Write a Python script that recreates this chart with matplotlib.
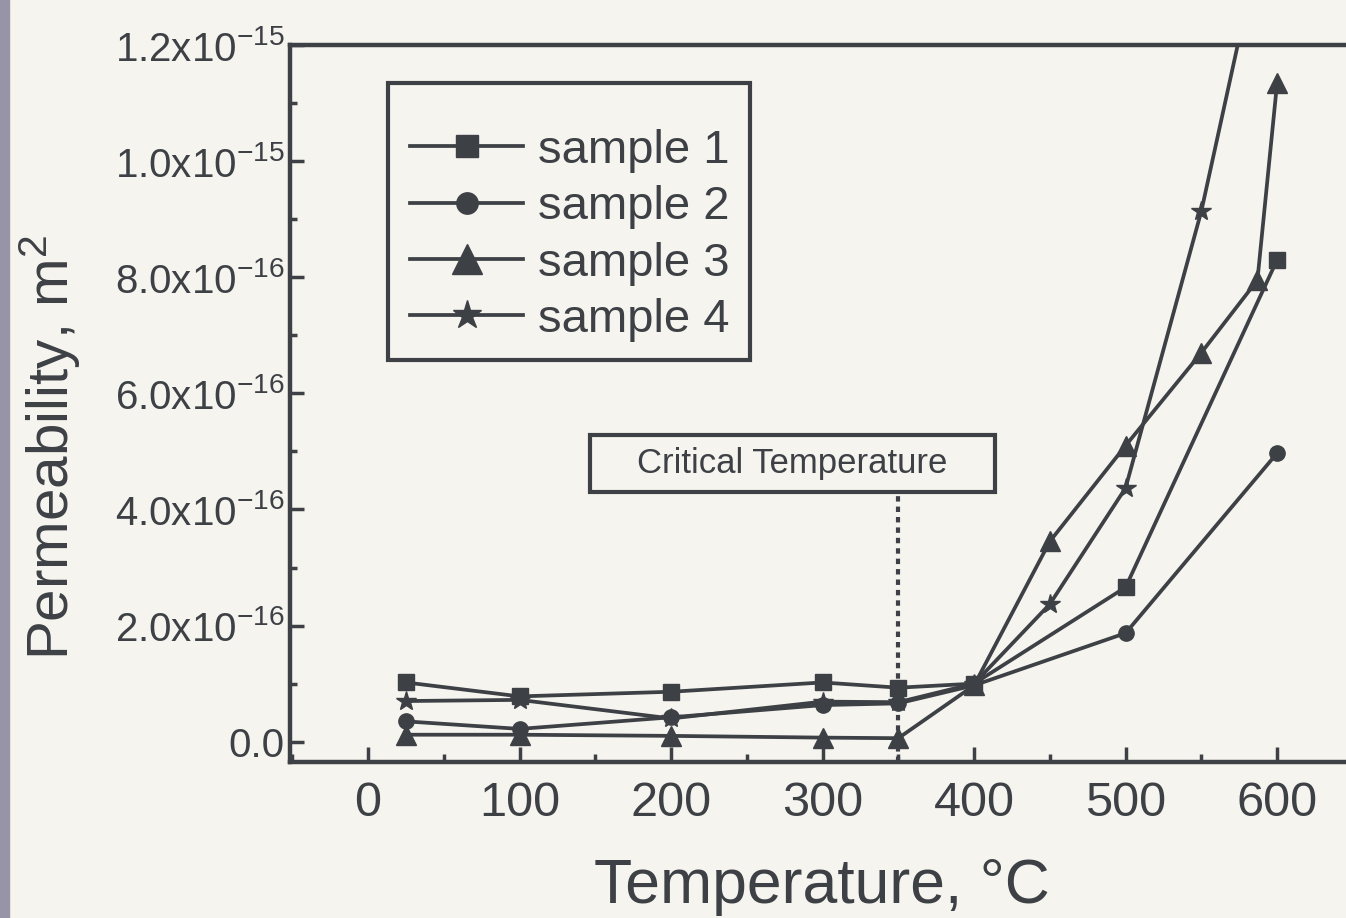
import numpy as np
import matplotlib
matplotlib.use('Agg')
import matplotlib.pyplot as plt
from matplotlib.ticker import FuncFormatter, MultipleLocator
from matplotlib.patches import Rectangle

plt.rcParams['font.family'] = ['Liberation Sans', 'DejaVu Sans']
plt.rcParams['mathtext.default'] = 'regular'

# data (permeability in m^2)
temps_1 = [25, 100, 200, 300, 350, 400, 500, 600]
perm_1 = [1.02e-16, 0.78e-16, 0.86e-16, 1.02e-16, 0.93e-16, 1.0e-16, 2.66e-16, 8.3e-16]

temps_2 = [25, 100, 200, 300, 350, 400, 500, 600]
perm_2 = [0.35e-16, 0.22e-16, 0.42e-16, 0.63e-16, 0.66e-16, 0.97e-16, 1.87e-16, 4.97e-16]

temps_3 = [25, 100, 200, 300, 350, 400, 450, 500, 550, 587, 600]
perm_3 = [0.12e-16, 0.12e-16, 0.10e-16, 0.07e-16, 0.06e-16, 0.97e-16, 3.45e-16,
          5.1e-16, 6.7e-16, 7.95e-16, 11.35e-16]

temps_4 = [25, 100, 200, 300, 350, 400, 450, 500, 550, 600]
perm_4 = [0.70e-16, 0.72e-16, 0.40e-16, 0.69e-16, 0.68e-16, 1.0e-16, 2.37e-16,
          4.37e-16, 9.14e-16, 15.1e-16]

labels = ['sample 1', 'sample 2', 'sample 3', 'sample 4']
critical_temp = 350

ink = '#3d4146'
paper = '#f6f4ee'

W, H = 1346, 918
ax_l, ax_r, ax_t, ax_b = 290, 1365, 45, 762   # axes box in pixels


def fx(px):
    return (px - ax_l) / (ax_r - ax_l)


def fy(py):
    return (ax_b - py) / (ax_b - ax_t)


fig = plt.figure(figsize=(W / 100, H / 100), dpi=100, facecolor=paper)
# scanner edge on the left
fig.patches.append(Rectangle((0, 0), 9 / W, 1, transform=fig.transFigure,
                             color='#9894a7', zorder=0))

ax = fig.add_axes([ax_l / W, (H - ax_b) / H, (ax_r - ax_l) / W, (ax_b - ax_t) / H])
ax.set_facecolor(paper)

series = [(temps_1, perm_1, 's', 11), (temps_2, perm_2, 'o', 11),
          (temps_3, perm_3, '^', 15), (temps_4, perm_4, '*', 15)]
for (t, p, m, ms), lab in zip(series, labels):
    ax.plot(t, p, color=ink, lw=2.7, marker=m, ms=ms, mfc=ink, mec=ink, label=lab)

ax.set_xlim(-51.5, 658)
ax.set_ylim(-0.35e-16, 1.2e-15)

ax.xaxis.set_major_locator(MultipleLocator(100))
ax.xaxis.set_minor_locator(MultipleLocator(50))
ax.yaxis.set_major_locator(MultipleLocator(2e-16))
ax.yaxis.set_minor_locator(MultipleLocator(1e-16))


def sci_fmt(v, pos):
    if abs(v) < 1e-30:
        return '0.0'
    e = int(np.floor(np.log10(abs(v)) + 1e-9))
    m = v / 10 ** e
    return '%.1fx10$^{%d}$' % (m, e)


ax.yaxis.set_major_formatter(FuncFormatter(sci_fmt))

for s in ['left', 'bottom', 'top']:
    ax.spines[s].set_linewidth(3.2)
    ax.spines[s].set_color(ink)
ax.spines['right'].set_visible(False)

ax.tick_params(axis='both', which='both', direction='in', color=ink, width=2.5,
               top=False, right=False)
ax.tick_params(axis='x', which='major', length=11, labelsize=35, pad=14, labelcolor=ink)
ax.tick_params(axis='x', which='minor', length=6)
ax.tick_params(axis='y', which='major', length=10, labelsize=29, pad=4, labelcolor=ink)
ax.tick_params(axis='y', which='minor', length=5)

ax.set_xlabel('Temperature, °C', fontsize=45, color=ink, va='center')
ax.xaxis.set_label_coords(fx(822), fy(886))
ax.set_ylabel('Permeability, m$^2$', fontsize=42, color=ink, va='center')
ax.yaxis.set_label_coords(fx(50), fy(447))

# legend: frame drawn separately so the padding can differ per side
ax.add_patch(Rectangle((fx(388), fy(360)), fx(750) - fx(388), fy(83) - fy(360),
                       transform=ax.transAxes, facecolor=paper, edgecolor=ink,
                       lw=3, zorder=4.5))
leg = ax.legend(loc='upper left', bbox_to_anchor=(fx(410), fy(129)),
                borderaxespad=0, fontsize=34, handlelength=2.4, handletextpad=0.3,
                labelspacing=0.26, borderpad=0, frameon=False, markerscale=1.4)
for txt in leg.get_texts():
    txt.set_color(ink)

# critical temperature marker
ax.axvline(critical_temp, ymin=0, ymax=fy(492), color=ink, lw=3,
           linestyle=(0, (1.3, 1.2)))
ax.add_patch(Rectangle((fx(590), fy(492)), fx(995) - fx(590), fy(435) - fy(492),
                       transform=ax.transAxes, facecolor=paper, edgecolor=ink,
                       lw=3, zorder=5))
ax.text(fx(792), fy(463), 'Critical Temperature',
        transform=ax.transAxes, ha='center', va='center', fontsize=25,
        color=ink, zorder=6)

fig.savefig('out.png', dpi=100, facecolor=paper)
